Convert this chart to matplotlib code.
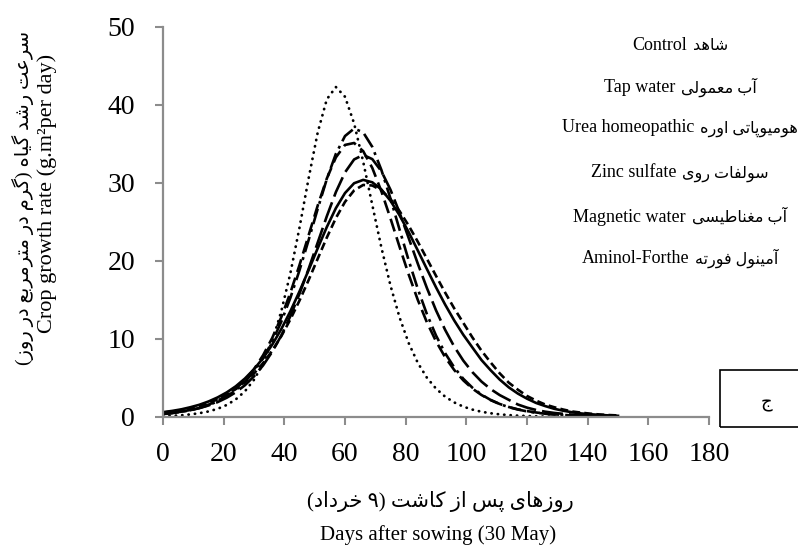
import matplotlib
matplotlib.use('Agg')
import matplotlib.pyplot as plt
from matplotlib.patches import Rectangle
from matplotlib.offsetbox import TextArea, HPacker, AnchoredOffsetbox

# ---------------- data ----------------
days = list(range(0, 151, 3))

control = [0.62, 0.78, 0.98, 1.25, 1.57, 1.99, 2.51, 3.15, 3.94, 4.93,
           6.12, 7.56, 9.27, 11.27, 13.56, 16.10, 18.83, 21.63, 24.35, 26.78,
           28.71, 29.97, 30.4, 30.09, 29.17, 27.72, 25.85, 23.69, 21.35, 18.97,
           16.63, 14.42, 12.38, 10.54, 8.91, 7.3, 6.0, 4.8, 3.8, 3.0,
           2.35, 1.8, 1.4, 1.05, 0.8, 0.6, 0.45, 0.35, 0.27, 0.2, 0.15]
tap_water = [0.56, 0.71, 0.89, 1.13, 1.43, 1.80, 2.27, 2.86, 3.59, 4.49,
             5.58, 6.91, 8.50, 10.36, 12.52, 14.93, 17.55, 20.29, 23.00, 25.51,
             27.58, 29.05, 29.75, 29.68, 29.05, 27.93, 26.39, 24.53, 22.47, 20.29,
             18.10, 15.96, 13.93, 12.07, 10.2, 8.5, 7.0, 5.6, 4.4, 3.5,
             2.7, 2.1, 1.6, 1.25, 0.95, 0.7, 0.55, 0.42, 0.32, 0.25, 0.2]
urea_homeopathic = [0.40, 0.53, 0.68, 0.88, 1.14, 1.48, 1.91, 2.47, 3.17, 4.07,
                    5.21, 6.62, 8.36, 10.45, 12.94, 15.81, 18.98, 22.36, 25.73, 28.84,
                    31.36, 33.02, 33.6, 33.06, 31.51, 29.13, 26.18, 22.94, 19.66, 16.54,
                    13.68, 11.18, 9.03, 7.23, 5.75, 4.54, 3.58, 2.81, 2.20, 1.6,
                    1.2, 0.9, 0.68, 0.52, 0.4, 0.3, 0.23, 0.18, 0.14, 0.11, 0.09]
zinc_sulfate = [0.39, 0.52, 0.69, 0.90, 1.20, 1.58, 2.09, 2.75, 3.62, 4.72,
                6.13, 7.92, 10.13, 12.80, 15.94, 19.48, 23.29, 27.10, 30.57, 33.29,
                34.88, 35.13, 34.08, 31.93, 28.93, 25.45, 21.80, 18.27, 15.01, 12.14,
                9.71, 7.67, 6.03, 4.70, 3.64, 2.82, 2.17, 1.67, 1.28, 0.98,
                0.76, 0.58, 0.44, 0.34, 0.26, 0.20, 0.15, 0.12, 0.09, 0.07, 0.05]
magnetic_water = [0.38, 0.50, 0.66, 0.87, 1.15, 1.52, 2.00, 2.63, 3.44, 4.50,
                  5.84, 7.54, 9.65, 12.22, 15.29, 18.81, 22.68, 26.68, 30.50, 33.75,
                  36.02, 36.98, 36.49, 34.63, 31.67, 27.99, 24.01, 20.07, 16.42, 13.19,
                  10.45, 8.19, 6.36, 4.90, 3.76, 2.87, 2.19, 1.66, 1.26, 0.96,
                  0.72, 0.55, 0.42, 0.31, 0.24, 0.18, 0.13, 0.10, 0.08, 0.06, 0.04]
aminol_forthe = [0.10, 0.15, 0.22, 0.33, 0.49, 0.71, 1.05, 1.54, 2.26, 3.29,
                 4.77, 6.86, 9.72, 13.56, 18.45, 24.28, 30.59, 36.47, 40.73, 42.3,
                 41.06, 37.64, 32.72, 27.18, 21.72, 16.84, 12.75, 9.47, 6.94, 5.04,
                 3.64, 2.61, 1.87, 1.33, 0.95, 0.67, 0.48, 0.34, 0.24, 0.17,
                 0.12, 0.09, 0.06, 0.04, 0.03, 0.02, 0.015, 0.01, 0.01, 0.005, 0.0]

x_ticks = [0, 20, 40, 60, 80, 100, 120, 140, 160, 180]
y_ticks = [0, 10, 20, 30, 40, 50]

legend_en = ["Control", "Tap water", "Urea homeopathic", "Zinc sulfate",
             "Magnetic water", "Aminol-Forthe"]
legend_fa = ["شاهد", "آب معمولی", "هومیوپاتی اوره", "سولفات روی",
             "آب مغناطیسی", "آمینول فورته"]

ylabel_fa = "سرعت رشد گیاه (گرم در مترمربع در روز)"
ylabel_en = "Crop growth rate (g.m\u00b2per day)"
xlabel_fa = "روزهای پس از کاشت (\u06f9 خرداد)"
xlabel_en = "Days after sowing (30 May)"
panel_fa = "ج"

# ------------- minimal Persian shaping (presentation forms) -------------
FORMS = {
    '\u0627': ('\uFE8D', '\uFE8E', None, None),
    '\u0622': ('\uFE81', '\uFE82', None, None),
    '\u0628': ('\uFE8F', '\uFE90', '\uFE91', '\uFE92'),
    '\u067E': ('\uFB56', '\uFB57', '\uFB58', '\uFB59'),
    '\u062A': ('\uFE95', '\uFE96', '\uFE97', '\uFE98'),
    '\u062C': ('\uFE9D', '\uFE9E', '\uFE9F', '\uFEA0'),
    '\u062E': ('\uFEA5', '\uFEA6', '\uFEA7', '\uFEA8'),
    '\u062F': ('\uFEA9', '\uFEAA', None, None),
    '\u0631': ('\uFEAD', '\uFEAE', None, None),
    '\u0632': ('\uFEAF', '\uFEB0', None, None),
    '\u0633': ('\uFEB1', '\uFEB2', '\uFEB3', '\uFEB4'),
    '\u0634': ('\uFEB5', '\uFEB6', '\uFEB7', '\uFEB8'),
    '\u0637': ('\uFEC1', '\uFEC2', '\uFEC3', '\uFEC4'),
    '\u0639': ('\uFEC9', '\uFECA', '\uFECB', '\uFECC'),
    '\u063A': ('\uFECD', '\uFECE', '\uFECF', '\uFED0'),
    '\u0641': ('\uFED1', '\uFED2', '\uFED3', '\uFED4'),
    '\u06A9': ('\uFB8E', '\uFB8F', '\uFB90', '\uFB91'),
    '\u0643': ('\uFB8E', '\uFB8F', '\uFB90', '\uFB91'),
    '\u06AF': ('\uFB92', '\uFB93', '\uFB94', '\uFB95'),
    '\u0644': ('\uFEDD', '\uFEDE', '\uFEDF', '\uFEE0'),
    '\u0645': ('\uFEE1', '\uFEE2', '\uFEE3', '\uFEE4'),
    '\u0646': ('\uFEE5', '\uFEE6', '\uFEE7', '\uFEE8'),
    '\u0647': ('\uFEE9', '\uFEEA', '\uFEEB', '\uFEEC'),
    '\u0648': ('\uFEED', '\uFEEE', None, None),
    '\u06CC': ('\uFBFC', '\uFBFD', '\uFBFE', '\uFBFF'),
    '\u064A': ('\uFBFC', '\uFBFD', '\uFBFE', '\uFBFF'),
    '\u0649': ('\uFBFC', '\uFBFD', '\uFBFE', '\uFBFF'),
}
MIRROR = {'(': ')', ')': '('}


def rtl(s):
    out = []
    n = len(s)
    for i, ch in enumerate(s):
        f = FORMS.get(ch)
        if f is None:
            out.append(MIRROR.get(ch, ch))
            continue
        prev = s[i - 1] if i > 0 else ''
        nxt = s[i + 1] if i + 1 < n else ''
        jp = prev in FORMS and FORMS[prev][2] is not None
        jn = f[2] is not None and nxt in FORMS
        if jp and jn:
            g = f[3]
        elif jp:
            g = f[1]
        elif jn:
            g = f[2]
        else:
            g = f[0]
        out.append(g)
    return ''.join(reversed(out))


FAM = ['Liberation Serif', 'DejaVu Sans']
plt.rcParams['font.family'] = FAM

# ---------------- figure ----------------
W, H = 798, 547
fig = plt.figure(figsize=(W / 100, H / 100), dpi=100)
ax = fig.add_axes([163 / W, 1 - 417 / H, (709 - 163) / W, (417 - 27) / H])

series = [control, tap_water, urea_homeopathic, zinc_sulfate, magnetic_water, aminol_forthe]
styles = ['-', (0, (3, 1.6)), (0, (8, 2.3)), (0, (5, 2.3)),
          (0, (6, 2.0, 1.1, 2.0)), (0, (0.1, 2.2))]
widths = [1.9, 1.9, 1.9, 1.9, 1.9, 2.0]
for vals, ls, lw in zip(series, styles, widths):
    ax.plot(days, vals, color='black', lw=lw, linestyle=ls,
            dash_capstyle='round' if ls == styles[-1] else 'butt')

ax.set_xlim(0, 180)
ax.set_ylim(0, 50)
ax.set_xticks(x_ticks)
ax.set_yticks(y_ticks)
for s in ['top', 'right']:
    ax.spines[s].set_visible(False)
for s in ['left', 'bottom']:
    ax.spines[s].set_color('#8c8c8c')
    ax.spines[s].set_linewidth(1.6)
ax.tick_params(direction='out', length=6, width=1.5, color='#8c8c8c',
               labelsize=20, labelcolor='black')
ax.tick_params(axis='x', pad=12)
ax.tick_params(axis='y', pad=14)

# legend-like text lines (no line samples in the reference)
ys = [45, 87, 128, 173, 217, 258]
for en, fa, yp in zip(legend_en, legend_fa, ys):
    box = HPacker(children=[TextArea(en, textprops=dict(fontsize=13, family=FAM)),
                            TextArea(rtl(fa), textprops=dict(fontsize=11.5, family=FAM))],
                  sep=4, pad=0, align='baseline')
    ab = AnchoredOffsetbox(loc='center', child=box, pad=0, borderpad=0, frameon=False,
                           bbox_to_anchor=(680 / W, 1 - yp / H),
                           bbox_transform=fig.transFigure)
    fig.add_artist(ab)

# axis labels
fig.text(23 / W, 1 - 198 / H, rtl(ylabel_fa), rotation=90, ha='center', va='center',
         fontsize=14, family=FAM)
fig.text(47 / W, 1 - 193 / H, ylabel_en, rotation=90, ha='center', va='center',
         fontsize=16, family=FAM)
fig.text(440 / W, 1 - 501 / H, rtl(xlabel_fa), ha='center', va='center',
         fontsize=15, family=FAM)
fig.text(438 / W, 1 - 535 / H, xlabel_en, ha='center', va='center',
         fontsize=15, family=FAM)

# panel box
fig.patches.append(Rectangle((720 / W, 1 - 427 / H), 90 / W, 57 / H,
                             transform=fig.transFigure, fill=False,
                             edgecolor='black', lw=1.2))
fig.text(766 / W, 1 - 404 / H, rtl(panel_fa), ha='center', va='center',
         fontsize=13, family=FAM)

fig.savefig('out.png', dpi=100)
